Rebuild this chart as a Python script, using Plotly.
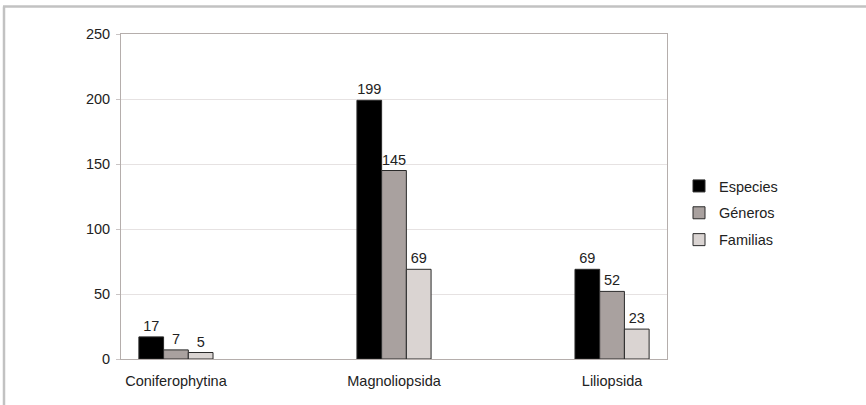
import plotly.graph_objects as go

categories = ["Coniferophytina", "Magnoliopsida", "Liliopsida"]
especies = [17, 199, 69]
generos = [7, 145, 52]
familias = [5, 69, 23]

series = [
    ("Especies", especies, "#000000"),
    ("Géneros", generos, "#a9a19f"),
    ("Familias", familias, "#dad4d2"),
]

FONT = "Liberation Sans, Arial"
FS = 14.5

fig = go.Figure()
for name, vals, color in series:
    fig.add_trace(go.Bar(
        x=categories, y=vals, name=name, legendgroup=name,
        marker=dict(color=color, line=dict(color="#2a2a2a", width=1)),
        text=[str(v) for v in vals], textposition="outside",
        textfont=dict(family=FONT, size=FS, color="#222222"),
        cliponaxis=False,
    ))

# plot area in pixels: x 121..667, y 34..359
L, R, T, B = 121, 667, 34, 359
W, H = 866, 405


def px(x):
    return (x - L) / (R - L)


def py(y):
    return (B - y) / (B - T)


fig.update_layout(
    width=W, height=H,
    margin=dict(l=L, r=W - R, t=T, b=H - B, pad=0),
    paper_bgcolor="white", plot_bgcolor="white",
    barmode="group", bargap=0.66, bargroupgap=0,
    font=dict(family=FONT, size=FS, color="#222222"),
    showlegend=True,
    legend=dict(
        x=px(679), y=py(213), xanchor="left", yanchor="middle",
        traceorder="grouped", tracegroupgap=5, itemwidth=30,
        font=dict(size=FS, color="#222222"), bgcolor="rgba(0,0,0,0)",
    ),
    xaxis=dict(
        range=[-0.252, 2.252], showgrid=False, ticks="outside", ticklen=0,
        showline=True, linecolor="#b5aeac", linewidth=1, mirror=True,
        tickfont=dict(size=FS), ticklabelstandoff=9,
    ),
    yaxis=dict(
        range=[0, 250], dtick=50, showgrid=True, gridcolor="#e6e2e2",
        gridwidth=1, showline=True, linecolor="#b5aeac", linewidth=1,
        mirror=True, ticks="outside", ticklen=4, tickcolor="#c9c4c4",
        tickfont=dict(size=FS), zeroline=False, ticklabelstandoff=3,
    ),
    shapes=[
        dict(type="line", xref="paper", yref="paper",
             x0=px(3), x1=px(866), y0=py(6.5), y1=py(6.5),
             line=dict(color="#c2c2c2", width=2.5)),
        dict(type="line", xref="paper", yref="paper",
             x0=px(4), x1=px(4), y0=py(6.5), y1=py(405),
             line=dict(color="#c2c2c2", width=2.5)),
    ],
)

fig.write_html("out.html")
